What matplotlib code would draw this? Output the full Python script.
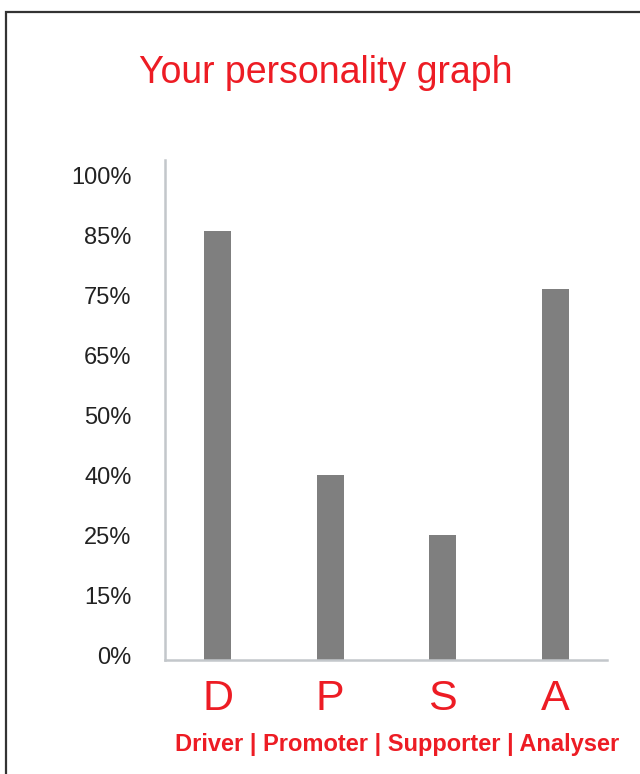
import numpy as np
import matplotlib
matplotlib.use("Agg")
import matplotlib.pyplot as plt
from matplotlib.patches import Rectangle

plt.rcParams['font.family'] = ['Liberation Sans', 'DejaVu Sans']

# personality scores (%)
types = ['D', 'P', 'S', 'A']
scores = [86, 40, 25, 76]
subtitle = 'Driver | Promoter | Supporter | Analyser'

# uneven scale: each level gets the same height on the axis
levels = [0, 15, 25, 40, 50, 65, 75, 85, 100]
level_labels = ['0%', '15%', '25%', '40%', '50%', '65%', '75%', '85%', '100%']
idx = np.arange(len(levels), dtype=float)


def forward(v):
    v = np.asarray(v, dtype=float)
    out = np.interp(v, levels, idx)
    out = np.where(v < levels[0], (v - levels[0]) / (levels[1] - levels[0]), out)
    out = np.where(v > levels[-1], idx[-1] + (v - levels[-1]) / (levels[-1] - levels[-2]), out)
    return out


def inverse(p):
    p = np.asarray(p, dtype=float)
    out = np.interp(p, idx, levels)
    out = np.where(p < 0, levels[0] + p * (levels[1] - levels[0]), out)
    out = np.where(p > idx[-1], levels[-1] + (p - idx[-1]) * (levels[-1] - levels[-2]), out)
    return out


red = '#ed1c24'
grey_bar = '#7f7f7f'
axis_col = '#c3c7cb'

fig = plt.figure(figsize=(6.4, 7.74), dpi=100)

# outer frame
fig.patches.append(Rectangle((6 / 640, -0.05), 1.2, 1 - 12 / 774 + 0.05,
                             transform=fig.transFigure, fill=False,
                             edgecolor='#333333', linewidth=1.6))

ax = fig.add_axes([165 / 640, 1 - 660 / 774, 442 / 640, 500 / 774])
ax.set_yscale('function', functions=(forward, inverse))

ymin = float(inverse(-5 / 60))
ymax = float(inverse(8.25))
x = np.arange(len(types))
ax.bar(x, np.array(scores) - ymin, bottom=ymin, width=0.24, color=grey_bar)

ax.set_ylim(ymin, ymax)
ax.set_xlim(-0.466, 3.457)
ax.set_yticks(levels)
ax.set_yticklabels(level_labels)
ax.yaxis.set_minor_locator(matplotlib.ticker.NullLocator())
ax.tick_params(axis='y', length=0, pad=24, labelsize=17, labelcolor='#222222')
ax.set_xticks(x)
ax.set_xticklabels(types)
ax.tick_params(axis='x', length=0, pad=14, labelsize=31, labelcolor=red)

for s in ['top', 'right']:
    ax.spines[s].set_visible(False)
for s in ['left', 'bottom']:
    ax.spines[s].set_color(axis_col)
    ax.spines[s].set_linewidth(1.8)

fig.text(326 / 640, 1 - 73 / 774, 'Your personality graph', color=red,
         fontsize=27, ha='center', va='center')
fig.text(397 / 640, 1 - 744 / 774, subtitle, color=red, fontsize=17,
         fontweight='bold', ha='center', va='center')

fig.savefig('out.png', dpi=100)
